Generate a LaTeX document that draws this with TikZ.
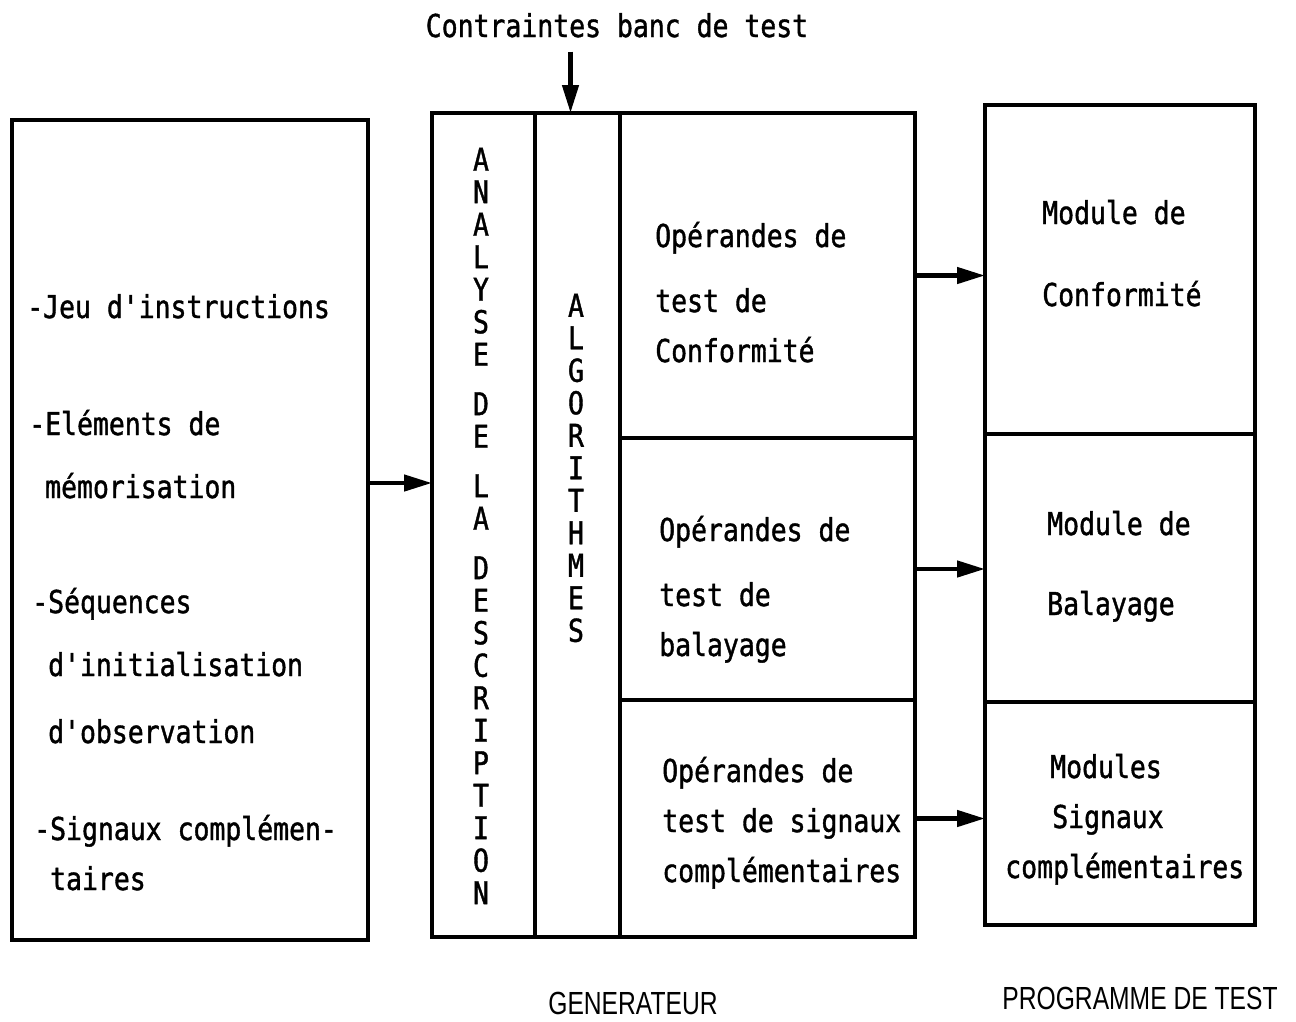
\documentclass[tikz,border=0pt]{standalone}
\usepackage{fontspec}
\setmainfont[FakeStretch=0.84, FakeBold=1.2, Ligatures=TeXOff]{DejaVu Sans Mono}
\newfontfamily\legende[FakeStretch=0.77]{Liberation Sans}
\usepackage{tikz}
\usetikzlibrary{positioning,arrows.meta}

\tikzset{
  cell/.style={draw, line width=4.5pt, outer sep=0pt, inner sep=0pt},
  texte/.style={font=\fontsize{31.5}{50}\selectfont, align=left, inner sep=0pt, anchor=base west},
  colonne/.style={font=\fontsize{31.5}{32.5}\selectfont, align=center, inner sep=0pt},
  titre/.style={font=\legende\fontsize{32}{36}\selectfont, inner sep=0pt}
}

\begin{document}
\begin{tikzpicture}[x=1pt, y=-1pt, ->, >={Triangle[length=28pt,width=16pt]}, line width=4.5pt]
	\useasboundingbox (0,0) rectangle (1296,1021);

	% description d'entree
	\node[cell, minimum width=356, minimum height=820] (donnees) at (190,530) {};
	\node[texte] (jeu) at (25,318) {-Jeu d'instructions};
	\node[texte] (elements) at (27,498) {-Eléments de\\[13pt]\hphantom{-}mémorisation};
	\node[texte] (sequences) at (30,743) {-Séquences\\[13pt]\hphantom{-}d'initialisation\\[17pt]\hphantom{-}d'observation};
	\node[texte] (signaux) at (32,890) {-Signaux complémen-\\\hphantom{-}taires};

	% generateur
	\node[cell, minimum width=103, minimum height=824] (analyse) at (483.5,525) {};
	\node[cell, minimum width=85, minimum height=824, right=0pt of analyse] (algo) {};
	\node[cell, minimum width=295, minimum height=325, anchor=north west] (conf) at (algo.north east) {};
	\node[cell, minimum width=295, minimum height=262, below=0pt of conf] (balay) {};
	\node[cell, minimum width=295, minimum height=237, below=0pt of balay] (signx) {};

	\node[colonne] (motanalyse) at (481,526) {A\\N\\A\\L\\Y\\S\\E\\[17pt]D\\E\\[17pt]L\\A\\[17pt]D\\E\\S\\C\\R\\I\\P\\T\\I\\O\\N};
	\node[colonne] (motalgo) at (576,468) {A\\L\\G\\O\\R\\I\\T\\H\\M\\E\\S};
	\node[texte] (opconf) at (653,362) {Opérandes de\\[15pt]test de\\Conformité};
	\node[texte] (opbal) at (657,656) {Opérandes de\\[15pt]test de\\balayage};
	\node[texte] (opsig) at (660,882) {Opérandes de\\test de signaux\\complémentaires};

	% programme de test
	\node[cell, minimum width=270, minimum height=329, anchor=north west] (modconf) at (985,105) {};
	\node[cell, minimum width=270, minimum height=268, below=0pt of modconf] (modbal) {};
	\node[cell, minimum width=270, minimum height=223, below=0pt of modbal] (modsig) {};
	\node[texte] (txtconf) at (1040,306) {Module de\\[32pt]Conformité};
	\node[texte] (txtbal) at (1045,615) {Module de\\[30pt]Balayage};
	\node[texte] (txtsig) at (1003,878) {\hspace{45pt}Modules\\\hspace{47pt}Signaux\\complémentaires};

	\node[texte, anchor=base] (contraintes) at (617,37) {Contraintes banc de test};
	\node[titre] (generateur) at (633,1003) {GENERATEUR};
	\node[titre] (programme) at (1140,998) {PROGRAMME DE TEST};

	\path (algo.north |- contraintes.south) ++(-7,12) coordinate (depart);
	\draw (depart) -- (depart |- algo.north);
	\draw ([yshift=47pt]donnees.east) -- ([yshift=42pt]analyse.west);
	\draw (conf.east) -- (conf.east -| modconf.west);
	\draw (balay.east) -- (balay.east -| modbal.west);
	\draw (signx.east) -- (signx.east -| modsig.west);
\end{tikzpicture}
\end{document}
